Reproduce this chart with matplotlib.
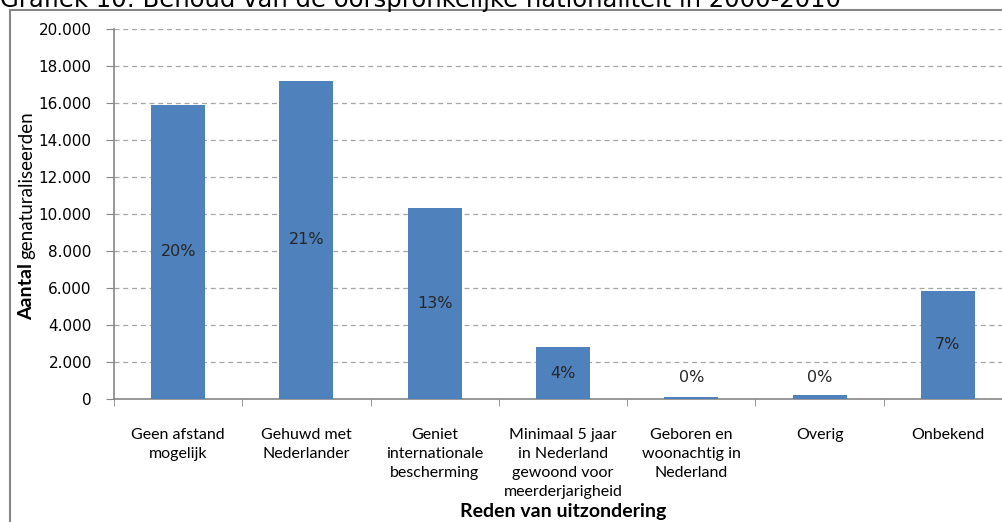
import matplotlib.pyplot as plt
from matplotlib.patches import Rectangle
import numpy as np

# data
categories = ["Geen afstand\nmogelijk", "Gehuwd met\nNederlander", "Geniet\ninternationale\nbescherming",
              "Minimaal 5 jaar\nin Nederland\ngewoond voor\nmeerderjarigheid",
              "Geboren en\nwoonachtig in\nNederland", "Overig", "Onbekend"]
values = [15900, 17200, 10300, 2800, 100, 200, 5850]
pct_labels = ["20%", "21%", "13%", "4%", "0%", "0%", "7%"]
yticks = [0, 2000, 4000, 6000, 8000, 10000, 12000, 14000, 16000, 18000, 20000]
ytick_labels = ["0", "2.000", "4.000", "6.000", "8.000", "10.000", "12.000",
                "14.000", "16.000", "18.000", "20.000"]

narrow = ['Lato', 'DejaVu Sans']
W, H = 1002, 522
fig = plt.figure(figsize=(W / 100, H / 100), dpi=100)

# grey frame of the chart area (cut off at right/bottom like the source)
fig.patches.append(Rectangle((10 / W, -0.1), 1.2, 1.1 - 10 / H, transform=fig.transFigure,
                             fill=False, edgecolor='#868686', linewidth=1.5))
fig.text(0, 1 - 7 / H, "Grafiek 10: Behoud van de oorspronkelijke nationaliteit in 2000-2010",
         fontsize=17.5, va='baseline', ha='left', color='black')

ax = fig.add_axes([114 / W, 1 - 399 / H, 898 / W, 370 / H])
x = np.arange(len(values))
ax.bar(x, values, width=0.42, color='#4F81BD', zorder=3)
ax.set_xlim(-0.5, len(values) - 0.5)
ax.set_ylim(0, 20000)

for xi, v, lab in zip(x, values, pct_labels):
    ax.text(xi, max(v / 2, 1150), lab, ha='center', va='center', fontsize=11.5,
            color='#262626', zorder=4)

ax.set_yticks(yticks)
ax.set_yticklabels(ytick_labels, fontsize=11)
ax.grid(axis='y', linestyle=(0, (4, 3)), color='#a6a6a6', linewidth=0.9, zorder=0)
ax.set_xticks(x)
ax.set_xticklabels(categories, fontsize=11.5, family=narrow, linespacing=1.45, va='top')
ax.tick_params(axis='x', length=0, pad=21)
ax.set_xticks(np.arange(len(values) + 1) - 0.5, minor=True)
ax.tick_params(axis='x', which='minor', length=5, color='#868686', direction='out')
ax.tick_params(axis='y', length=6, color='#868686', direction='out', pad=10)

for s in ['top', 'right']:
    ax.spines[s].set_visible(False)
for s in ['left', 'bottom']:
    ax.spines[s].set_color('#868686')
    ax.spines[s].set_linewidth(1.2)

fig.text(563 / W, 1 - 512 / H, "Reden van uitzondering", ha='center', va='center',
         fontsize=14, fontweight='bold', family=narrow)

# y label: bold "Aantal" followed by regular "genaturaliseerden"
t1 = fig.text(27 / W, 1 - 320 / H, "Aantal", rotation=90, ha='center', va='bottom',
              fontsize=14, fontweight='bold', family=narrow)
fig.canvas.draw()
bb = t1.get_window_extent()
fig.text(27 / W, (bb.y1 + 4) / H, "genaturaliseerden", rotation=90, ha='center', va='bottom',
         fontsize=13.5, family=narrow)

fig.savefig("out.png", dpi=100)
